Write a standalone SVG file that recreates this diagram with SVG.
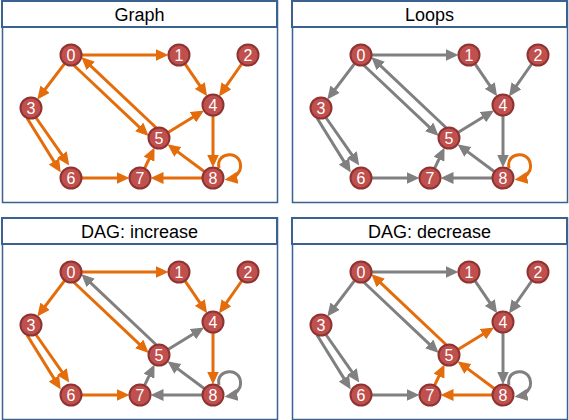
<svg xmlns="http://www.w3.org/2000/svg" width="569" height="420" viewBox="0 0 569 420">
<defs>
<marker id="ao" markerUnits="userSpaceOnUse" markerWidth="13" markerHeight="12" refX="8.5" refY="6" orient="auto"><path d="M0,0 L13,6 L0,12 z" fill="#E46C0A"/></marker>
<marker id="ag" markerUnits="userSpaceOnUse" markerWidth="13" markerHeight="12" refX="8.5" refY="6" orient="auto"><path d="M0,0 L13,6 L0,12 z" fill="#808080"/></marker>
</defs>
<style>
.frame{fill:#fff;stroke:#3A6190;stroke-width:1.5}
.head{fill:#fff;stroke:#3A6190;stroke-width:2}
.title{font-family:"Liberation Sans",Arial,sans-serif;font-size:18px;fill:#000;text-anchor:middle}
.o{fill:none;stroke:#E46C0A;stroke-width:3;marker-end:url(#ao)}
.g{fill:none;stroke:#808080;stroke-width:3;marker-end:url(#ag)}
.node circle{fill:#C0504D;stroke:#8E3331;stroke-width:2}
.node text{font-family:"Liberation Sans",Arial,sans-serif;font-size:16px;fill:#fff;text-anchor:middle}
</style>

<!-- Panel 1: Graph -->
<g id="panel-graph">
<rect class="frame" x="2.5" y="1" width="275" height="201.5"/>
<rect class="head" x="2" y="1" width="275" height="26"/>
<text class="title" x="139.5" y="20.5">Graph</text>
<g id="graph-edges">
<line class="o" x1="82" y1="55" x2="164" y2="55"/>
<line class="o" x1="64.4" y1="63.8" x2="40" y2="96"/>
<line class="o" x1="74.1" y1="65.5" x2="145.4" y2="132.8"/>
<line class="o" x1="155.9" y1="127.5" x2="84.6" y2="60.2"/>
<line class="o" x1="185.2" y1="64.1" x2="204.6" y2="92.6"/>
<line class="o" x1="241.7" y1="64" x2="221.6" y2="92.7"/>
<line class="o" x1="27" y1="118" x2="58.4" y2="168.6"/>
<line class="o" x1="35.5" y1="117" x2="66.7" y2="161.7"/>
<line class="o" x1="213" y1="116" x2="213" y2="163"/>
<line class="o" x1="168.4" y1="132.3" x2="200.2" y2="112.8"/>
<line class="o" x1="82" y1="178" x2="125" y2="178"/>
<line class="o" x1="144.7" y1="168.1" x2="152.6" y2="151.5"/>
<line class="o" x1="204.2" y1="171.5" x2="171.1" y2="146.9"/>
<line class="o" x1="202" y1="178" x2="155" y2="178"/>
<path class="o" d="M219,168 C215,150 245,150 240,170 Q236,178 229,179"/>
</g>
<g id="graph-n0" class="node"><circle cx="71" cy="55" r="10.5"/><text x="71" y="60.8">0</text></g>
<g id="graph-n1" class="node"><circle cx="179" cy="55" r="10.5"/><text x="179" y="60.8">1</text></g>
<g id="graph-n2" class="node"><circle cx="248" cy="55" r="10.5"/><text x="248" y="60.8">2</text></g>
<g id="graph-n3" class="node"><circle cx="31" cy="108" r="10.5"/><text x="31" y="113.8">3</text></g>
<g id="graph-n4" class="node"><circle cx="213" cy="105" r="10.5"/><text x="213" y="110.8">4</text></g>
<g id="graph-n5" class="node"><circle cx="159" cy="138" r="10.5"/><text x="159" y="143.8">5</text></g>
<g id="graph-n6" class="node"><circle cx="71" cy="178" r="10.5"/><text x="71" y="183.8">6</text></g>
<g id="graph-n7" class="node"><circle cx="140" cy="178" r="10.5"/><text x="140" y="183.8">7</text></g>
<g id="graph-n8" class="node"><circle cx="213" cy="178" r="10.5"/><text x="213" y="183.8">8</text></g>
</g>

<!-- Panel 2: Loops -->
<g id="panel-loops" transform="translate(290,0)">
<rect class="frame" x="2.5" y="1" width="275" height="201.5"/>
<rect class="head" x="2" y="1" width="275" height="26"/>
<text class="title" x="139.5" y="20.5">Loops</text>
<g id="loops-edges">
<line class="g" x1="82" y1="55" x2="164" y2="55"/>
<line class="g" x1="64.4" y1="63.8" x2="40" y2="96"/>
<line class="g" x1="74.1" y1="65.5" x2="145.4" y2="132.8"/>
<line class="g" x1="155.9" y1="127.5" x2="84.6" y2="60.2"/>
<line class="g" x1="185.2" y1="64.1" x2="204.6" y2="92.6"/>
<line class="g" x1="241.7" y1="64" x2="221.6" y2="92.7"/>
<line class="g" x1="27" y1="118" x2="58.4" y2="168.6"/>
<line class="g" x1="35.5" y1="117" x2="66.7" y2="161.7"/>
<line class="g" x1="213" y1="116" x2="213" y2="163"/>
<line class="g" x1="168.4" y1="132.3" x2="200.2" y2="112.8"/>
<line class="g" x1="82" y1="178" x2="125" y2="178"/>
<line class="g" x1="144.7" y1="168.1" x2="152.6" y2="151.5"/>
<line class="g" x1="204.2" y1="171.5" x2="171.1" y2="146.9"/>
<line class="g" x1="202" y1="178" x2="155" y2="178"/>
<path class="o" d="M219,168 C215,150 245,150 240,170 Q236,178 229,179"/>
</g>
<g id="loops-n0" class="node"><circle cx="71" cy="55" r="10.5"/><text x="71" y="60.8">0</text></g>
<g id="loops-n1" class="node"><circle cx="179" cy="55" r="10.5"/><text x="179" y="60.8">1</text></g>
<g id="loops-n2" class="node"><circle cx="248" cy="55" r="10.5"/><text x="248" y="60.8">2</text></g>
<g id="loops-n3" class="node"><circle cx="31" cy="108" r="10.5"/><text x="31" y="113.8">3</text></g>
<g id="loops-n4" class="node"><circle cx="213" cy="105" r="10.5"/><text x="213" y="110.8">4</text></g>
<g id="loops-n5" class="node"><circle cx="159" cy="138" r="10.5"/><text x="159" y="143.8">5</text></g>
<g id="loops-n6" class="node"><circle cx="71" cy="178" r="10.5"/><text x="71" y="183.8">6</text></g>
<g id="loops-n7" class="node"><circle cx="140" cy="178" r="10.5"/><text x="140" y="183.8">7</text></g>
<g id="loops-n8" class="node"><circle cx="213" cy="178" r="10.5"/><text x="213" y="183.8">8</text></g>
</g>

<!-- Panel 3: DAG increase -->
<g id="panel-increase" transform="translate(0,217)">
<rect class="frame" x="2.5" y="1" width="275" height="201.5"/>
<rect class="head" x="2" y="1" width="275" height="26"/>
<text class="title" x="139.5" y="20.5">DAG: increase</text>
<g id="increase-edges">
<line class="o" x1="82" y1="55" x2="164" y2="55"/>
<line class="o" x1="64.4" y1="63.8" x2="40" y2="96"/>
<line class="o" x1="74.1" y1="65.5" x2="145.4" y2="132.8"/>
<line class="g" x1="155.9" y1="127.5" x2="84.6" y2="60.2"/>
<line class="o" x1="185.2" y1="64.1" x2="204.6" y2="92.6"/>
<line class="o" x1="241.7" y1="64" x2="221.6" y2="92.7"/>
<line class="o" x1="27" y1="118" x2="58.4" y2="168.6"/>
<line class="o" x1="35.5" y1="117" x2="66.7" y2="161.7"/>
<line class="o" x1="213" y1="116" x2="213" y2="163"/>
<line class="g" x1="168.4" y1="132.3" x2="200.2" y2="112.8"/>
<line class="o" x1="82" y1="178" x2="125" y2="178"/>
<line class="g" x1="144.7" y1="168.1" x2="152.6" y2="151.5"/>
<line class="g" x1="204.2" y1="171.5" x2="171.1" y2="146.9"/>
<line class="g" x1="202" y1="178" x2="155" y2="178"/>
<path class="g" d="M219,168 C215,150 245,150 240,170 Q236,178 229,179"/>
</g>
<g id="increase-n0" class="node"><circle cx="71" cy="55" r="10.5"/><text x="71" y="60.8">0</text></g>
<g id="increase-n1" class="node"><circle cx="179" cy="55" r="10.5"/><text x="179" y="60.8">1</text></g>
<g id="increase-n2" class="node"><circle cx="248" cy="55" r="10.5"/><text x="248" y="60.8">2</text></g>
<g id="increase-n3" class="node"><circle cx="31" cy="108" r="10.5"/><text x="31" y="113.8">3</text></g>
<g id="increase-n4" class="node"><circle cx="213" cy="105" r="10.5"/><text x="213" y="110.8">4</text></g>
<g id="increase-n5" class="node"><circle cx="159" cy="138" r="10.5"/><text x="159" y="143.8">5</text></g>
<g id="increase-n6" class="node"><circle cx="71" cy="178" r="10.5"/><text x="71" y="183.8">6</text></g>
<g id="increase-n7" class="node"><circle cx="140" cy="178" r="10.5"/><text x="140" y="183.8">7</text></g>
<g id="increase-n8" class="node"><circle cx="213" cy="178" r="10.5"/><text x="213" y="183.8">8</text></g>
</g>

<!-- Panel 4: DAG decrease -->
<g id="panel-decrease" transform="translate(290,217)">
<rect class="frame" x="2.5" y="1" width="275" height="201.5"/>
<rect class="head" x="2" y="1" width="275" height="26"/>
<text class="title" x="139.5" y="20.5">DAG: decrease</text>
<g id="decrease-edges">
<line class="g" x1="82" y1="55" x2="164" y2="55"/>
<line class="g" x1="64.4" y1="63.8" x2="40" y2="96"/>
<line class="g" x1="74.1" y1="65.5" x2="145.4" y2="132.8"/>
<line class="o" x1="155.9" y1="127.5" x2="84.6" y2="60.2"/>
<line class="g" x1="185.2" y1="64.1" x2="204.6" y2="92.6"/>
<line class="g" x1="241.7" y1="64" x2="221.6" y2="92.7"/>
<line class="g" x1="27" y1="118" x2="58.4" y2="168.6"/>
<line class="g" x1="35.5" y1="117" x2="66.7" y2="161.7"/>
<line class="g" x1="213" y1="116" x2="213" y2="163"/>
<line class="o" x1="168.4" y1="132.3" x2="200.2" y2="112.8"/>
<line class="g" x1="82" y1="178" x2="125" y2="178"/>
<line class="o" x1="144.7" y1="168.1" x2="152.6" y2="151.5"/>
<line class="o" x1="204.2" y1="171.5" x2="171.1" y2="146.9"/>
<line class="o" x1="202" y1="178" x2="155" y2="178"/>
<path class="g" d="M219,168 C215,150 245,150 240,170 Q236,178 229,179"/>
</g>
<g id="decrease-n0" class="node"><circle cx="71" cy="55" r="10.5"/><text x="71" y="60.8">0</text></g>
<g id="decrease-n1" class="node"><circle cx="179" cy="55" r="10.5"/><text x="179" y="60.8">1</text></g>
<g id="decrease-n2" class="node"><circle cx="248" cy="55" r="10.5"/><text x="248" y="60.8">2</text></g>
<g id="decrease-n3" class="node"><circle cx="31" cy="108" r="10.5"/><text x="31" y="113.8">3</text></g>
<g id="decrease-n4" class="node"><circle cx="213" cy="105" r="10.5"/><text x="213" y="110.8">4</text></g>
<g id="decrease-n5" class="node"><circle cx="159" cy="138" r="10.5"/><text x="159" y="143.8">5</text></g>
<g id="decrease-n6" class="node"><circle cx="71" cy="178" r="10.5"/><text x="71" y="183.8">6</text></g>
<g id="decrease-n7" class="node"><circle cx="140" cy="178" r="10.5"/><text x="140" y="183.8">7</text></g>
<g id="decrease-n8" class="node"><circle cx="213" cy="178" r="10.5"/><text x="213" y="183.8">8</text></g>
</g>
</svg>
